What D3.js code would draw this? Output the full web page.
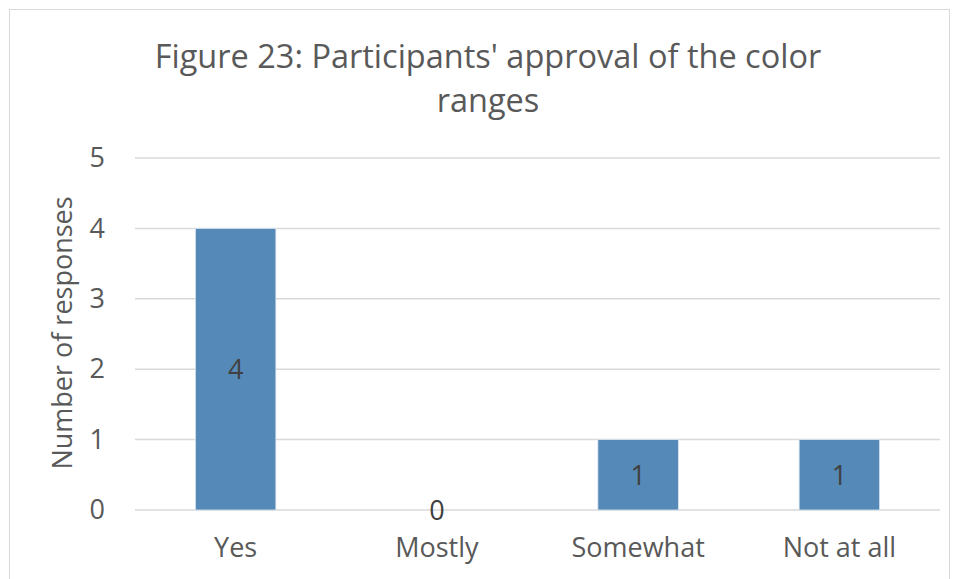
<!DOCTYPE html>
<html>
<head>
<meta charset="utf-8">
<script src="https://cdn.jsdelivr.net/npm/d3@7"></script>
<style>
  html, body { margin: 0; padding: 0; background: #fff; }
  svg { display: block; }
  text { font-family: "Open Sans", "Noto Sans", sans-serif; }
</style>
</head>
<body>
<svg id="chart" width="954" height="579"></svg>
<script>
// Survey answers and how many participants gave each
const categories = ["Yes", "Mostly", "Somewhat", "Not at all"];
const responses = [4, 0, 1, 1];
const yTicks = [0, 1, 2, 3, 4, 5];
const titleLines = ["Figure 23: Participants' approval of the color", "ranges"];
const yTitle = "Number of responses";

const svg = d3.select("#chart");
const plot = { left: 135, right: 940, top: 158, bottom: 510 };

// Chart frame
svg.append("rect")
  .attr("x", 9.5).attr("y", 9.5)
  .attr("width", 940).attr("height", 600)
  .attr("fill", "#fff").attr("stroke", "#d9d9d9").attr("stroke-width", 1);

const x = d3.scaleBand()
  .domain(categories)
  .range([plot.left, plot.right])
  .paddingInner(0.6)
  .paddingOuter(0.3);

const y = d3.scaleLinear()
  .domain([0, 5])
  .range([plot.bottom, plot.top]);

// Horizontal gridlines
svg.append("g")
  .selectAll("line")
  .data(yTicks)
  .join("line")
  .attr("x1", plot.left).attr("x2", plot.right)
  .attr("y1", d => y(d)).attr("y2", d => y(d))
  .attr("stroke", "#d9d9d9").attr("stroke-width", 1.5);

// Y axis labels
const yAxis = svg.append("g")
  .attr("transform", `translate(${plot.left},0)`)
  .call(d3.axisLeft(y).tickValues(yTicks).tickSize(0).tickPadding(30).tickFormat(d3.format("d")));
yAxis.select(".domain").remove();
yAxis.selectAll("text")
  .attr("font-size", 27).attr("fill", "#595959")
  .style("font-family", "'Open Sans', sans-serif");

// X axis labels
const xAxis = svg.append("g")
  .attr("transform", `translate(0,${plot.bottom})`)
  .call(d3.axisBottom(x).tickSize(0).tickPadding(28));
xAxis.select(".domain").remove();
xAxis.selectAll("text")
  .attr("font-size", 27).attr("fill", "#595959")
  .style("font-family", "'Open Sans', sans-serif");

// Bars
const data = categories.map((c, i) => ({ c, v: responses[i] }));
svg.append("g")
  .selectAll("rect")
  .data(data)
  .join("rect")
  .attr("x", d => x(d.c))
  .attr("y", d => y(d.v))
  .attr("width", x.bandwidth())
  .attr("height", d => y(0) - y(d.v))
  .attr("fill", "#5589b8")
  .attr("stroke", "#dce6f1").attr("stroke-width", 0.8);

// Value labels centred in each bar
svg.append("g")
  .selectAll("text")
  .data(data)
  .join("text")
  .attr("x", d => x(d.c) + x.bandwidth() / 2)
  .attr("y", d => (y(d.v) + y(0)) / 2)
  .attr("dy", "0.36em")
  .attr("text-anchor", "middle")
  .attr("font-size", 27)
  .attr("fill", "#404040")
  .text(d => d.v);

// Title
svg.append("g")
  .selectAll("text")
  .data(titleLines)
  .join("text")
  .attr("x", 488)
  .attr("y", (d, i) => 68 + i * 44)
  .attr("text-anchor", "middle")
  .attr("font-size", 32.5)
  .attr("fill", "#595959")
  .text(d => d);

// Y axis title
svg.append("text")
  .attr("transform", `translate(72,${(plot.top + plot.bottom) / 2 - 1}) rotate(-90)`)
  .attr("text-anchor", "middle")
  .attr("font-size", 27)
  .attr("fill", "#595959")
  .text(yTitle);
</script>
</body>
</html>
